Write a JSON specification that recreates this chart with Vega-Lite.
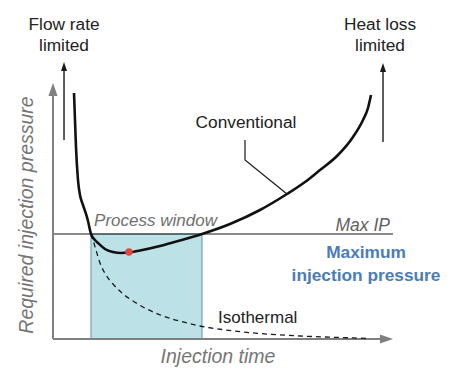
{
  "$schema": "https://vega.github.io/schema/vega-lite/v6.json",
  "width": 452,
  "height": 372,
  "padding": 0,
  "autosize": {"type": "fit", "contains": "padding"},
  "background": "white",
  "config": {"view": {"stroke": null}, "text": {"font": "Liberation Sans"}},
  "encoding": {
    "x": {"field": "x", "type": "quantitative", "scale": {"domain": [-15.588, 117.353], "nice": false, "zero": false}, "axis": null},
    "y": {"field": "y", "type": "quantitative", "scale": {"domain": [-12.941, 132.941], "nice": false, "zero": false}, "axis": null}
  },
  "layer": [
    {
      "data": {"values": [{"x": 11.18, "x2": 43.82, "y": 0, "y2": 41.18}]},
      "mark": {"type": "rect", "fill": "#bce2e8", "stroke": "#5f94a6", "strokeWidth": 1},
      "encoding": {"x2": {"field": "x2"}, "y2": {"field": "y2"}}
    },
    {
      "data": {"values": [{"x": 0, "x2": 100, "y": 41.18}]},
      "mark": {"type": "rule", "color": "#1a1a1a", "strokeWidth": 1.1},
      "encoding": {"x2": {"field": "x2"}}
    },
    {
      "data": {"values": [{"x": 0, "y": 0, "x2": 0, "y2": 97.5}, {"x": 0, "y": 0, "x2": 97.8, "y2": 0}]},
      "mark": {"type": "rule", "color": "#808080", "strokeWidth": 2},
      "encoding": {"x2": {"field": "x2"}, "y2": {"field": "y2"}}
    },
    {
      "data": {"values": [{"x": 0, "y": 97.84}]},
      "mark": {"type": "point", "shape": "M0,-1L0.7,1L-0.7,1Z", "filled": true, "color": "#808080", "opacity": 1, "size": 169, "angle": 0}
    },
    {
      "data": {"values": [{"x": 98.09, "y": 0}]},
      "mark": {"type": "point", "shape": "M0,-1L0.7,1L-0.7,1Z", "filled": true, "color": "#808080", "opacity": 1, "size": 169, "angle": 90}
    },
    {
      "data": {"values": [{"x": 3.24, "y": 78.04, "x2": 3.24, "y2": 106.5}, {"x": 97.06, "y": 77.25, "x2": 97.06, "y2": 106.2}]},
      "mark": {"type": "rule", "color": "#1a1a1a", "strokeWidth": 1.4},
      "encoding": {"x2": {"field": "x2"}, "y2": {"field": "y2"}}
    },
    {
      "data": {"values": [{"x": 3.24, "y": 106.86}, {"x": 97.06, "y": 106.47}]},
      "mark": {"type": "point", "shape": "M0,-1L0.67,1L-0.67,1Z", "filled": true, "color": "#1a1a1a", "opacity": 1, "size": 81}
    },
    {
      "data": {"values": [
        {"o": 1, "x": 56.47, "y": 78.04},
        {"o": 2, "x": 56.47, "y": 70.2},
        {"o": 3, "x": 68.82, "y": 56.86}
      ]},
      "mark": {"type": "line", "color": "#1a1a1a", "strokeWidth": 1.2},
      "encoding": {"order": {"field": "o"}}
    },
    {
      "data": {"values": [
        {"x": 11.18, "y": 41.18}, {"x": 11.76, "y": 38.82}, {"x": 12.65, "y": 34.9}, {"x": 13.82, "y": 29.8},
        {"x": 15.59, "y": 25.1}, {"x": 17.65, "y": 21.57}, {"x": 20.29, "y": 18.04}, {"x": 23.53, "y": 14.9},
        {"x": 27.65, "y": 11.76}, {"x": 32.35, "y": 9.02}, {"x": 38.24, "y": 6.67}, {"x": 43.24, "y": 5.1},
        {"x": 50.88, "y": 3.53}, {"x": 60.88, "y": 2.16}, {"x": 72.65, "y": 1.18}, {"x": 84.41, "y": 0.59},
        {"x": 92.06, "y": 0.27}
      ]},
      "mark": {"type": "line", "color": "#1a1a1a", "strokeWidth": 1.3, "strokeDash": [5, 4], "interpolate": "monotone"},
      "encoding": {"order": {"field": "x"}}
    },
    {
      "data": {"values": [
        {"x": 6.18, "y": 96.47}, {"x": 6.47, "y": 85.88}, {"x": 6.76, "y": 75.29}, {"x": 7.35, "y": 62.35},
        {"x": 7.94, "y": 56.47}, {"x": 8.82, "y": 52.55}, {"x": 9.71, "y": 49.02}, {"x": 10.29, "y": 46.27},
        {"x": 11.18, "y": 41.18}, {"x": 12.35, "y": 38.82}, {"x": 13.24, "y": 37.65}, {"x": 15.29, "y": 35.29},
        {"x": 17.65, "y": 34.12}, {"x": 20.0, "y": 33.73}, {"x": 22.35, "y": 33.92}, {"x": 25.59, "y": 34.71},
        {"x": 31.47, "y": 36.47}, {"x": 37.35, "y": 38.63}, {"x": 43.82, "y": 41.18}, {"x": 52.06, "y": 45.1},
        {"x": 60.88, "y": 50.59}, {"x": 68.82, "y": 56.86}, {"x": 74.12, "y": 61.57}, {"x": 78.53, "y": 66.27},
        {"x": 83.53, "y": 71.76}, {"x": 88.24, "y": 79.22}, {"x": 91.18, "y": 85.88}, {"x": 92.65, "y": 90.59},
        {"x": 93.53, "y": 95.69}
      ]},
      "mark": {"type": "line", "color": "#111111", "strokeWidth": 2.6, "interpolate": "monotone"},
      "encoding": {"order": {"field": "x"}}
    },
    {
      "data": {"values": [{"x": 22.35, "y": 34.12}]},
      "mark": {"type": "point", "filled": true, "color": "#e2473a", "opacity": 1, "size": 55}
    },
    {
      "data": {"values": [
        {"x": 3.24, "y": 121.18, "t": "Flow rate"}, {"x": 3.24, "y": 112.94, "t": "limited"},
        {"x": 96.18, "y": 121.18, "t": "Heat loss"}, {"x": 96.18, "y": 112.94, "t": "limited"},
        {"x": 56.76, "y": 82.75, "t": "Conventional"}
      ]},
      "mark": {"type": "text", "align": "center", "baseline": "alphabetic", "fontSize": 17.3, "color": "#222222"},
      "encoding": {"text": {"field": "t"}}
    },
    {
      "data": {"values": [{"x": 48.53, "y": 6.27, "t": "Isothermal"}]},
      "mark": {"type": "text", "align": "left", "baseline": "alphabetic", "fontSize": 17, "color": "#222222"},
      "encoding": {"text": {"field": "t"}}
    },
    {
      "data": {"values": [{"x": 30.15, "y": 44.31, "t": "Process window"}]},
      "mark": {"type": "text", "align": "center", "baseline": "alphabetic", "fontSize": 17, "fontStyle": "italic", "color": "#707070"},
      "encoding": {"text": {"field": "t"}}
    },
    {
      "data": {"values": [{"x": 99.12, "y": 42.35, "t": "Max IP"}]},
      "mark": {"type": "text", "align": "right", "baseline": "alphabetic", "fontSize": 17.5, "fontStyle": "italic", "color": "#606060"},
      "encoding": {"text": {"field": "t"}}
    },
    {
      "data": {"values": [
        {"x": 92.06, "y": 31.76, "t": "Maximum"},
        {"x": 92.06, "y": 22.75, "t": "injection pressure"}
      ]},
      "mark": {"type": "text", "align": "center", "baseline": "alphabetic", "fontSize": 17.3, "fontWeight": "bold", "color": "#4a7cb8"},
      "encoding": {"text": {"field": "t"}}
    },
    {
      "data": {"values": [{"x": 48.53, "y": -9.41, "t": "Injection time"}]},
      "mark": {"type": "text", "align": "center", "baseline": "alphabetic", "fontSize": 19.5, "fontStyle": "italic", "color": "#757575"},
      "encoding": {"text": {"field": "t"}}
    },
    {
      "data": {"values": [{"x": -5.88, "y": 48.63, "t": "Required injection pressure"}]},
      "mark": {"type": "text", "align": "center", "baseline": "alphabetic", "angle": 270, "fontSize": 19.5, "fontStyle": "italic", "color": "#757575"},
      "encoding": {"text": {"field": "t"}}
    }
  ]
}
